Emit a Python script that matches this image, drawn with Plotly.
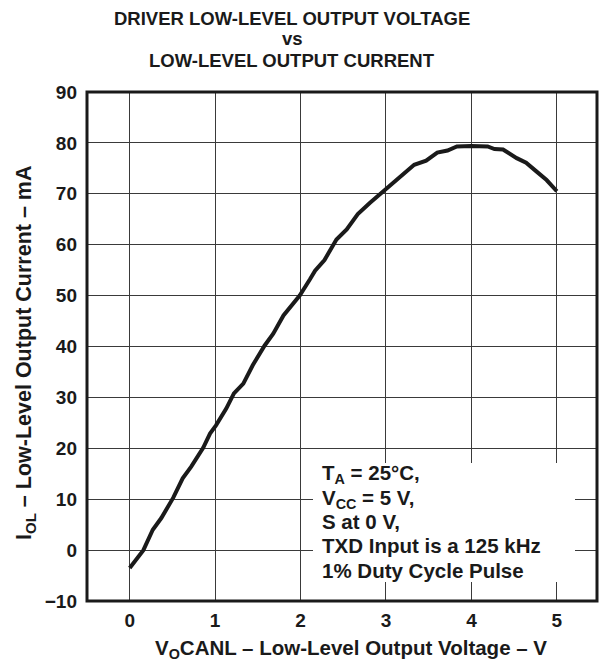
import plotly.graph_objects as go

# Data
vo_canl = [0, 0.16, 0.27, 0.37, 0.51, 0.62, 0.72, 0.86, 0.94, 1.01, 1.13, 1.22, 1.33, 1.44,
           1.58, 1.68, 1.80, 1.99, 2.11, 2.17, 2.28, 2.42, 2.54, 2.67, 2.81, 2.99, 3.12, 3.33,
           3.47, 3.60, 3.72, 3.83, 4.00, 4.19, 4.27, 4.37, 4.53, 4.64, 4.76, 4.88, 5.0]
i_ol = [-3.5, 0, 4.0, 6.3, 10.3, 14.1, 16.4, 20.1, 22.9, 24.5, 27.8, 30.8, 32.7, 36.3,
        40.2, 42.5, 46.1, 50.0, 53.2, 54.9, 57.0, 61.0, 63.0, 66.0, 68.2, 70.8, 72.6, 75.7,
        76.5, 78.1, 78.5, 79.3, 79.4, 79.3, 78.8, 78.7, 77.0, 76.1, 74.4, 72.7, 70.5]

x_ticks = [0, 1, 2, 3, 4, 5]
y_ticks = [-10, 0, 10, 20, 30, 40, 50, 60, 70, 80, 90]
y_tick_text = ["\u221210", "0", "10", "20", "30", "40", "50", "60", "70", "80", "90"]

title_lines = ["DRIVER LOW-LEVEL OUTPUT VOLTAGE", "vs", "LOW-LEVEL OUTPUT CURRENT"]
note_lines = ["T<sub>A</sub> = 25\u00b0C,", "V<sub>CC</sub> = 5 V,", "S at 0 V,",
              "TXD Input is a 125 kHz", "1% Duty Cycle Pulse"]

FONT = "Liberation Sans, Arial, sans-serif"
INK = "#1a1a1a"
W, H = 600, 663
L, R, T, B = 87, 3, 92, 62
PW, PH = W - L - R, H - T - B


def px(x):
    return (x - L) / PW


def py(y):
    return (H - B - y) / PH


fig = go.Figure()
fig.add_trace(go.Scatter(x=vo_canl, y=i_ol, mode="lines",
                         line=dict(color=INK, width=4), showlegend=False))

grid = dict(showgrid=True, gridcolor="#3a3a3a", gridwidth=1.3, zeroline=False,
            showline=False, ticks="",
            tickfont=dict(family=FONT, size=19, color=INK, weight="bold"))

fig.update_layout(
    width=W, height=H,
    margin=dict(l=L, r=R, t=T, b=B, autoexpand=False),
    paper_bgcolor="white", plot_bgcolor="white",
    xaxis=dict(range=[-0.5, 5.47], tickvals=x_ticks, ticklabelstandoff=6, **grid),
    yaxis=dict(range=[-10, 90], tickvals=y_ticks, ticktext=y_tick_text,
               ticklabelstandoff=9, **grid),
)

# white box behind note
fig.add_shape(type="rect", xref="paper", yref="paper",
              x0=px(313), x1=px(575), y0=py(582), y1=py(463),
              fillcolor="white", line=dict(width=0), layer="above")
# frame
fig.add_shape(type="rect", xref="paper", yref="paper", x0=0, x1=1, y0=0, y1=1,
              line=dict(color=INK, width=3), layer="above")

# title lines
for txt, ypx in zip(title_lines, [18, 39, 60]):
    fig.add_annotation(text=txt, xref="paper", yref="paper",
                       x=px(292), y=py(ypx), showarrow=False,
                       xanchor="center", yanchor="middle",
                       font=dict(family=FONT, size=18.5, color=INK, weight="bold"))

# note lines
for txt, ypx in zip(note_lines, [474, 499, 521, 545, 570]):
    fig.add_annotation(text=txt, xref="paper", yref="paper",
                       x=px(320), y=py(ypx), showarrow=False,
                       xanchor="left", yanchor="middle",
                       font=dict(family=FONT, size=20.5, color=INK, weight="bold"))

# axis titles
fig.add_annotation(text="V<sub>O</sub>CANL \u2013 Low-Level Output Voltage \u2013 V",
                   xref="paper", yref="paper", x=px(351), y=py(649),
                   showarrow=False, xanchor="center", yanchor="middle",
                   font=dict(family=FONT, size=20.5, color=INK, weight="bold"))
fig.add_annotation(text="I<sub>OL</sub> \u2013 Low-Level Output Current \u2013 mA",
                   xref="paper", yref="paper", x=px(25), y=py(353),
                   showarrow=False, xanchor="center", yanchor="middle", textangle=-90,
                   font=dict(family=FONT, size=21.5, color=INK, weight="bold"))

fig.write_html("out.html", config={"displayModeBar": False},
               post_script="document.body.style.margin='0';")
